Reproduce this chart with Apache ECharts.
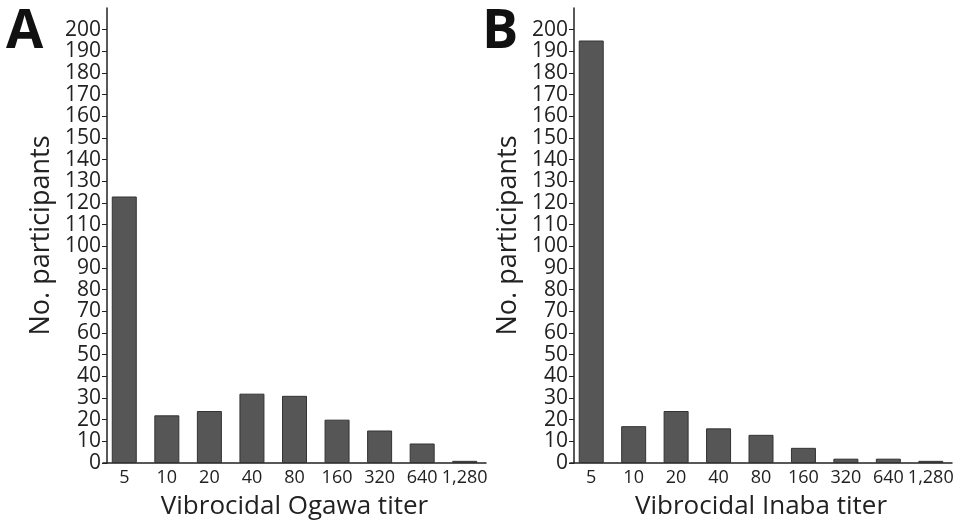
<!DOCTYPE html>
<html><head><meta charset="utf-8">
<script src="https://cdn.jsdelivr.net/npm/echarts@6/dist/echarts.min.js"></script>
<style>html,body{margin:0;padding:0;background:#fff}#c{width:957px;height:520px}</style>
</head><body><div id="c"></div>
<script>
const categories = ['5','10','20','40','80','160','320','640','1,280'];
const ogawaValues = [123, 22, 24, 32, 31, 20, 15, 9, 1];
const inabaValues = [195, 17, 24, 16, 13, 7, 2, 2, 1];
const xTitles = ['Vibrocidal Ogawa titer', 'Vibrocidal Inaba titer'];
const yTitle = 'No. participants';
const panelLetters = ['A', 'B'];

const chart = echarts.init(document.getElementById('c'));
const font = 'Open Sans';
const txt = '#222';
function xAxis(i, name){
  return {type:'category', gridIndex:i, data:categories, name:name, nameLocation:'middle', nameGap:31,
    nameTextStyle:{fontFamily:font, fontSize:26, color:txt},
    axisLine:{lineStyle:{color:txt, width:1.5}}, axisTick:{show:false},
    axisLabel:{fontFamily:font, fontSize:18, color:txt, margin:6, interval:0}};
}
function yAxis(i){
  return {type:'value', gridIndex:i, min:0, max:210, interval:10, offset:-4,
    name:yTitle, nameLocation:'middle', nameGap:52,
    nameTextStyle:{fontFamily:font, fontSize:27, color:txt},
    axisLine:{show:true, lineStyle:{color:txt, width:1.5}},
    axisTick:{show:true, length:5, lineStyle:{color:txt}},
    splitLine:{show:false},
    axisLabel:{fontFamily:font, fontSize:21, color:txt, margin:6, showMaxLabel:false,
      formatter: v => v >= 210 ? '' : String(v)}};
}
function series(i, data){
  return {type:'bar', xAxisIndex:i, yAxisIndex:i, data:data, barWidth:25,
    itemStyle:{color:'#565656', borderColor:'#333', borderWidth:1}, animation:false};
}
chart.setOption({
  animation:false,
  grid:[{left:103, right:471, top:8, bottom:57, outerBoundsMode:'none', containLabel:false},
        {left:570, right:5, top:8, bottom:57, outerBoundsMode:'none', containLabel:false}],
  xAxis:[xAxis(0, xTitles[0]), xAxis(1, xTitles[1])],
  yAxis:[yAxis(0), yAxis(1)],
  series:[series(0, ogawaValues), series(1, inabaValues)],
  graphic:[
    {type:'text', left:6, top:6, style:{text:panelLetters[0], fontFamily:font, fontWeight:'bold', fontSize:54, fill:'#111'}},
    {type:'text', left:482, top:6, style:{text:panelLetters[1], fontFamily:font, fontWeight:'bold', fontSize:54, fill:'#111'}}
  ]
});
</script></body></html>
